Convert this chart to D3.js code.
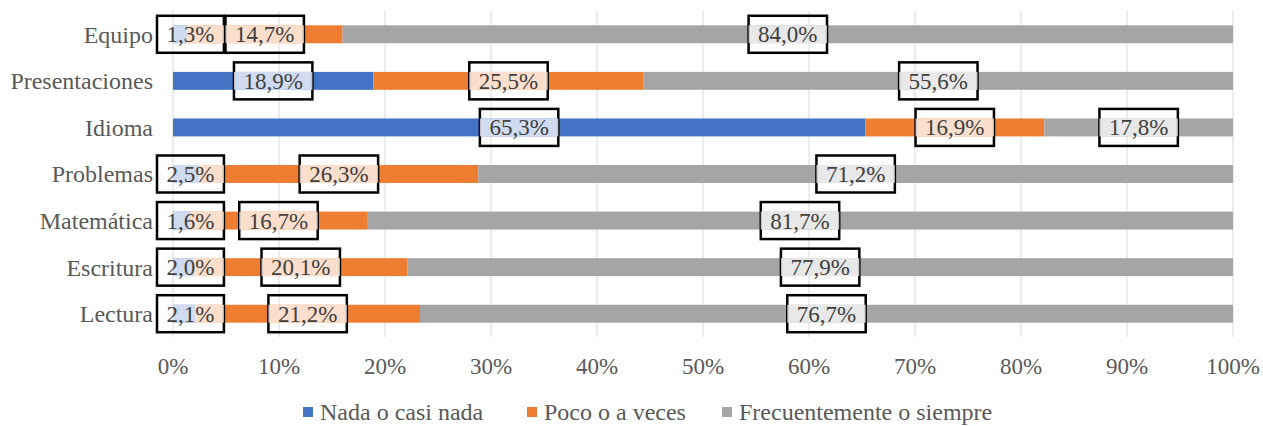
<!DOCTYPE html>
<html>
<head>
<meta charset="utf-8">
<script src="https://cdn.jsdelivr.net/npm/d3@7"></script>
<style>
  body { margin: 0; background: #fff; }
</style>
</head>
<body>
<div id="chart"></div>
<script>
// categories top to bottom
const categories = ["Equipo", "Presentaciones", "Idioma", "Problemas", "Matemática", "Escritura", "Lectura"]
const seriesNames = ["Nada o casi nada", "Poco o a veces", "Frecuentemente o siempre"]
const nada = [1.3, 18.9, 65.3, 2.5, 1.6, 2.0, 2.1]
const poco = [14.7, 25.5, 16.9, 26.3, 16.7, 20.1, 21.2]
const frecuente = [84.0, 55.6, 17.8, 71.2, 81.7, 77.9, 76.7]
const ticks = [0, 10, 20, 30, 40, 50, 60, 70, 80, 90, 100]
const colors = ["#4472C4", "#ED7D31", "#A5A5A5"]

const W = 1263, H = 426
const margin = {top: 11, right: 30, bottom: 89, left: 173}
const FONT = "'Liberation Serif', 'Times New Roman', Times, serif"

const svg = d3.select("#chart").append("svg")
  .attr("width", W).attr("height", H)
  .attr("font-family", FONT)

const x = d3.scaleLinear().domain([0, 100]).range([margin.left, W - margin.right])
const y = d3.scaleBand().domain(categories).range([margin.top, H - margin.bottom]).paddingInner(0.615).paddingOuter(0.3075)

// gridlines
svg.append("g").selectAll("line").data(ticks).join("line")
  .attr("x1", d => x(d)).attr("x2", d => x(d))
  .attr("y1", margin.top).attr("y2", H - margin.bottom)
  .attr("stroke", "#D9D9D9").attr("stroke-width", 1)

// build rows
const rows = categories.map((c, i) => ({cat: c, vals: [nada[i], poco[i], frecuente[i]]}))
const stack = d3.stack().keys([0, 1, 2]).value((d, k) => d.vals[k])
const layers = stack(rows)

svg.append("g").selectAll("g").data(layers).join("g")
  .attr("fill", (d, i) => colors[i])
  .selectAll("rect").data(d => d).join("rect")
  .attr("x", d => x(d[0]))
  .attr("width", d => x(d[1]) - x(d[0]))
  .attr("y", d => y(d.data.cat))
  .attr("height", y.bandwidth())

// category labels
svg.append("g").selectAll("text").data(categories).join("text")
  .attr("x", margin.left - 20)
  .attr("y", d => y(d) + y.bandwidth() / 2)
  .attr("dy", "0.35em")
  .attr("text-anchor", "end")
  .attr("font-size", 24)
  .attr("fill", "#595959")
  .text(d => d)

// x tick labels
svg.append("g").selectAll("text").data(ticks).join("text")
  .attr("x", d => x(d))
  .attr("y", 366)
  .attr("dy", "0.35em")
  .attr("text-anchor", "middle")
  .attr("font-size", 23)
  .attr("fill", "#595959")
  .text(d => d + "%")

// data labels
const fmt = v => v.toFixed(1).replace(".", ",") + "%"
const labels = []
layers.forEach((layer, k) => layer.forEach(d => labels.push({cat: d.data.cat, v: d.data.vals[k], mid: (d[0] + d[1]) / 2})))

const lg = svg.append("g").selectAll("g").data(labels).join("g")
lg.each(function(d) {
  const g = d3.select(this)
  const cy = y(d.cat) + y.bandwidth() / 2
  const t = g.append("text")
    .attr("text-anchor", "middle")
    .attr("dy", "0.35em")
    .attr("font-size", 23)
    .attr("fill", "#404040")
    .text(fmt(d.v))
  const tw = t.node().getComputedTextLength()
  const bw = tw + 19, bh = 37
  let cx = x(d.mid)
  if (cx - bw / 2 < margin.left - 16) cx = margin.left - 16 + bw / 2  // keep small labels off the axis labels
  t.attr("x", cx).attr("y", cy)
  // translucent white fill only over the bar, black frame around
  g.insert("rect", "text")
    .attr("x", cx - bw / 2).attr("y", cy - bh / 2)
    .attr("width", bw).attr("height", bh)
    .attr("fill", "none")
    .attr("stroke", "#000").attr("stroke-width", 2.5)
  g.insert("rect", "text")
    .attr("x", Math.max(cx - bw / 2, margin.left)).attr("y", y(d.cat))
    .attr("width", cx + bw / 2 - Math.max(cx - bw / 2, margin.left)).attr("height", y.bandwidth())
    .attr("fill", "#fff").attr("fill-opacity", 0.75)
})

// legend
const legendX = [303, 527, 722]
const leg = svg.append("g").selectAll("g").data(seriesNames).join("g")
  .attr("transform", (d, i) => `translate(${legendX[i]},412)`)
leg.append("rect").attr("x", 0).attr("y", -5).attr("width", 10).attr("height", 10)
  .attr("fill", (d, i) => colors[i])
leg.append("text").attr("x", 17).attr("dy", "0.35em")
  .attr("font-size", 24).attr("fill", "#595959")
  .text(d => d)
</script>
</body>
</html>
